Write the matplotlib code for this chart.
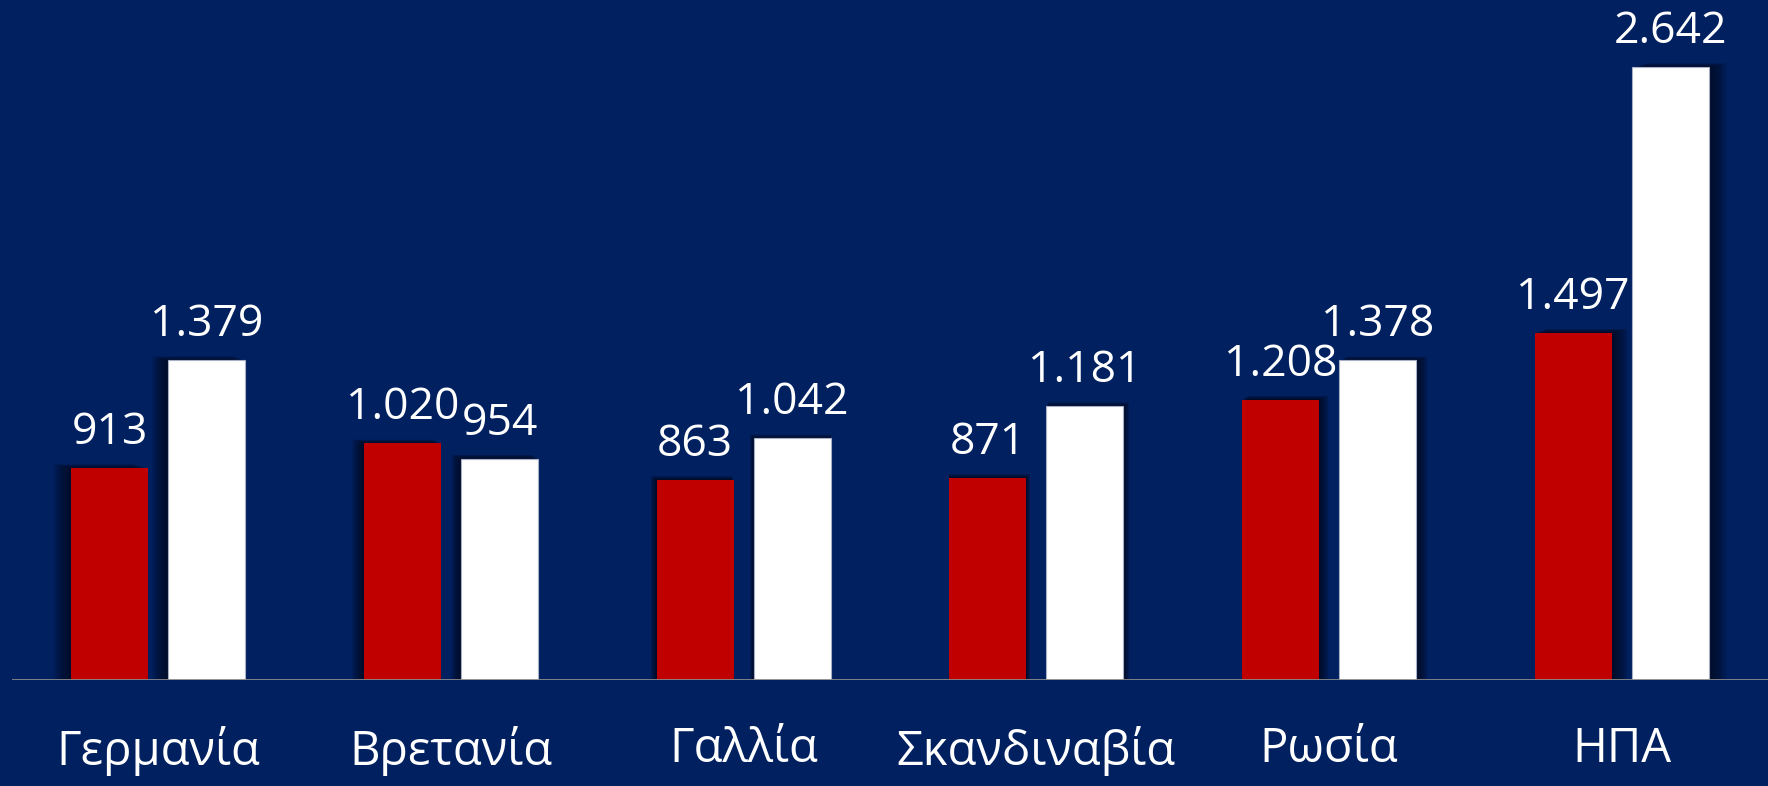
import matplotlib
matplotlib.use("Agg")
import matplotlib.pyplot as plt

categories = ['Γερμανία', 'Βρετανία', 'Γαλλία', 'Σκανδιναβία', 'Ρωσία', 'ΗΠΑ']
red_values = [913, 1020, 863, 871, 1208, 1497]
white_values = [1379, 954, 1042, 1181, 1378, 2642]

bg = '#002060'
red = '#C00000'

plt.rcParams['font.family'] = ['Open Sans', 'DejaVu Sans']

fig = plt.figure(figsize=(17.68, 7.86), dpi=100, facecolor=bg)
ax = fig.add_axes([12 / 1768, 106 / 786, 1 - 12 / 1768, 1 - 106 / 786])
ax.set_facecolor(bg)

ymax = 2931
ax.set_xlim(-0.5, 5.5)
ax.set_ylim(0, ymax)
px_x = 6 / 1756
px_y = ymax / 680

width = 0.263
off = 0.166

def shadow(x, h):
    # soft shadow, pushed away from the middle of the chart
    sx = (x - 2.5) / 3.0 * 18 * px_x
    n = 16
    for k in range(1, n + 1):
        f = k / n
        ax.bar(x + sx * f, h + 8 * px_y * f, width=width + 4 * px_x * f, bottom=-4 * px_y * f,
               color='#000818', alpha=0.07, linewidth=0, zorder=1)

xs = range(len(categories))
for i in xs:
    shadow(i - off, red_values[i])
    shadow(i + off, white_values[i])

ax.bar([i - off for i in xs], red_values, width=width, color=red, zorder=3, linewidth=0)
ax.bar([i + off for i in xs], white_values, width=width, color='white', zorder=3,
       edgecolor='#a8b0c8', linewidth=0.8)

def fmt(v):
    return f'{v:,}'.replace(',', '.')

for i in xs:
    ax.text(i - off, red_values[i] + 24 * px_y, fmt(red_values[i]), ha='center', va='baseline',
            color='white', fontsize=32, zorder=4)
    ax.text(i + off, white_values[i] + 24 * px_y, fmt(white_values[i]), ha='center', va='baseline',
            color='white', fontsize=32, zorder=4)

ax.axhline(0, color='#8a8a8a', linewidth=2, zorder=5)

for s in ax.spines.values():
    s.set_visible(False)
ax.set_yticks([])
ax.set_xticks(list(xs))
ax.set_xticklabels(categories, color='white', fontsize=34)
ax.tick_params(axis='x', length=0, pad=33)

fig.savefig('out.png', dpi=100, facecolor=bg)
